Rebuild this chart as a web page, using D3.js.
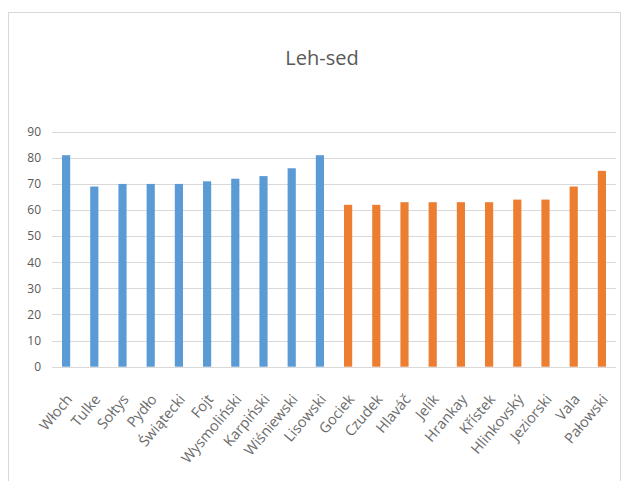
<!DOCTYPE html>
<html>
<head>
<meta charset="utf-8">
<script src="https://cdn.jsdelivr.net/npm/d3@7/dist/d3.min.js"></script>
<style>
  html, body { margin: 0; padding: 0; background: #fff; }
  svg { display: block; }
  text { font-family: "Open Sans", "Noto Sans", sans-serif; }
</style>
</head>
<body>
<div id="chart"></div>
<script>
const title = "Leh-sed";
const categories = ["Włoch","Tulke","Sołtys","Pydło","Świątecki","Fojt","Wysmoliński","Karpiński","Wiśniewski","Lisowski",
  "Gociek","Czudek","Hlaváč","Jelík","Hrankay","Křístek","Hlinkovský","Jeziorski","Vala","Pałowski"];
const values = [81, 69, 70, 70, 70, 71, 72, 73, 76, 81,
  62, 62, 63, 63, 63, 63, 64, 64, 69, 75];
const groups = ["A","A","A","A","A","A","A","A","A","A",
  "B","B","B","B","B","B","B","B","B","B"];
const yTicks = [0, 10, 20, 30, 40, 50, 60, 70, 80, 90];
const groupColors = {A: "#5b9bd5", B: "#ed7d31"};

const W = 629, H = 481;
const margin = {left: 52, right: 13, top: 131.7, bottom: 114.3};

const svg = d3.select("#chart").append("svg").attr("width", W).attr("height", H);

// chart frame
svg.append("rect").attr("x", 8.5).attr("y", 12.5).attr("width", 612).attr("height", 480)
  .attr("fill", "#fff").attr("stroke", "#d9d9d9");

const x = d3.scaleBand().domain(categories).range([margin.left, W - margin.right]).paddingInner(0.71).paddingOuter(0.355);
const y = d3.scaleLinear().domain([0, 90]).range([H - margin.bottom, margin.top]);

// gridlines
svg.append("g").selectAll("line").data(yTicks).join("line")
  .attr("x1", margin.left).attr("x2", W - margin.right)
  .attr("y1", d => Math.round(y(d)) + 0.5).attr("y2", d => Math.round(y(d)) + 0.5)
  .attr("stroke", "#d9d9d9").attr("stroke-width", 1);

// y axis labels
const yAxis = d3.axisLeft(y).tickValues(yTicks).tickSize(0).tickPadding(0);
const gy = svg.append("g").attr("transform", `translate(${margin.left - 11},0)`).call(yAxis);
gy.select(".domain").remove();
gy.selectAll("text").attr("fill", "#595959").style("font-size", "12px");

// bars
svg.append("g").selectAll("rect").data(categories).join("rect")
  .attr("x", d => x(d))
  .attr("width", x.bandwidth())
  .attr("y", (d, i) => y(values[i]))
  .attr("height", (d, i) => y(0) - y(values[i]))
  .attr("fill", (d, i) => groupColors[groups[i]]);

// x axis labels
const xAxis = d3.axisBottom(x).tickSize(0).tickPadding(0);
const gx = svg.append("g").attr("transform", `translate(0,${y(0)})`).call(xAxis);
gx.select(".domain").remove();
gx.selectAll("text")
  .attr("fill", "#6a6a6a")
  .style("font-size", "14.5px")
  .attr("text-anchor", "end")
  .attr("dy", "0")
  .attr("transform", "translate(7,33) rotate(-50)");

// title
svg.append("text").attr("x", 322).attr("y", 65).attr("text-anchor", "middle")
  .attr("fill", "#595959").style("font-size", "20px").text(title);
</script>
</body>
</html>
